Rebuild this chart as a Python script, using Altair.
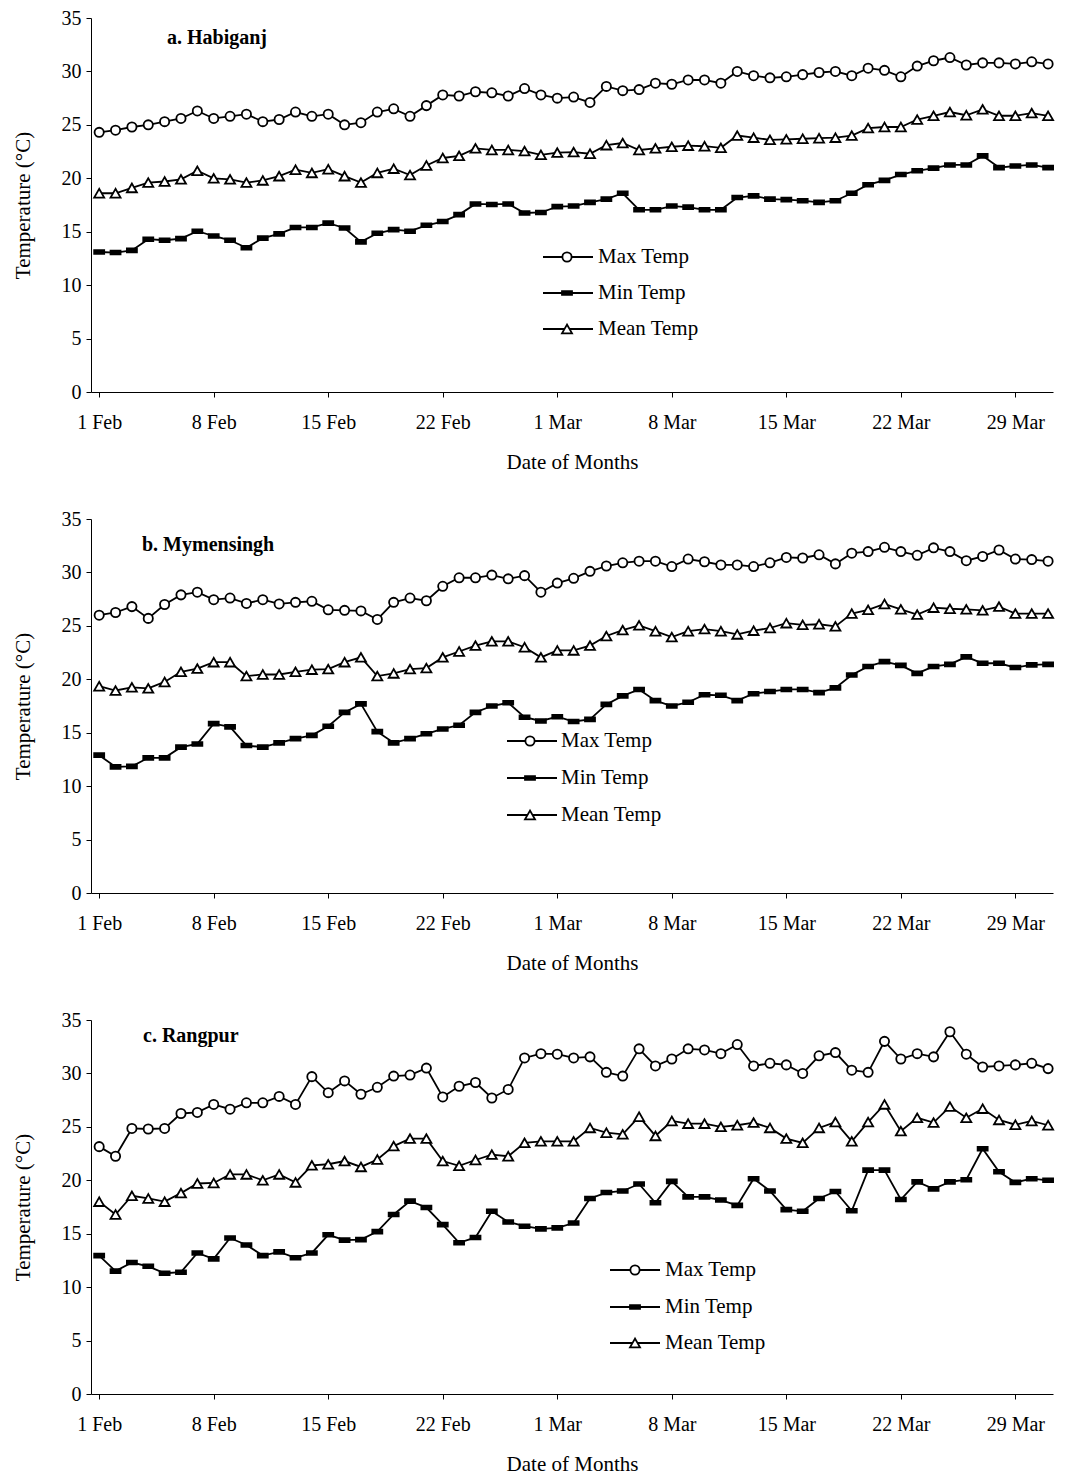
import json
import altair as alt
import pandas as pd

FONT = "Liberation Serif"

# ---------------- data ----------------
tick_days = [0, 7, 14, 21, 28, 35, 42, 49, 56]
tick_labels = ["1 Feb", "8 Feb", "15 Feb", "22 Feb", "1 Mar", "8 Mar", "15 Mar", "22 Mar", "29 Mar"]
series_names = ["Max Temp", "Min Temp", "Mean Temp"]
panel_titles = ["a. Habiganj", "b. Mymensingh", "c. Rangpur"]

max_a = [24.3, 24.5, 24.8, 25.0, 25.3, 25.6, 26.3, 25.6, 25.8, 26.0, 25.3, 25.5, 26.2, 25.8, 26.0,
         25.0, 25.2, 26.2, 26.5, 25.8, 26.8, 27.8, 27.7, 28.1, 28.0, 27.7, 28.4, 27.8, 27.5, 27.6,
         27.1, 28.6, 28.2, 28.3, 28.9, 28.8, 29.2, 29.2, 28.9, 30.0, 29.6, 29.4, 29.5, 29.7, 29.9,
         30.0, 29.6, 30.3, 30.1, 29.5, 30.5, 31.0, 31.3, 30.6, 30.8, 30.8, 30.7, 30.9, 30.7]
min_a = [13.1, 13.05, 13.25, 14.3, 14.2, 14.35, 15.05, 14.6, 14.2, 13.5, 14.4, 14.8, 15.4, 15.4, 15.8,
         15.35, 14.05, 14.85, 15.2, 15.05, 15.6, 15.95, 16.6, 17.6, 17.55, 17.6, 16.75, 16.8, 17.35, 17.4,
         17.75, 18.05, 18.6, 17.05, 17.05, 17.4, 17.3, 17.05, 17.05, 18.2, 18.35, 18.05, 18.0, 17.9, 17.75,
         17.9, 18.6, 19.4, 19.8, 20.35, 20.7, 20.95, 21.25, 21.25, 22.1, 21.0, 21.15, 21.25, 21.0]
mean_a = [18.6, 18.6, 19.1, 19.6, 19.7, 19.9, 20.7, 20.0, 19.9, 19.6, 19.8, 20.2, 20.8, 20.5, 20.85,
          20.2, 19.6, 20.5, 20.9, 20.3, 21.2, 21.9, 22.1, 22.8, 22.65, 22.65, 22.55, 22.2, 22.4, 22.45,
          22.3, 23.1, 23.3, 22.65, 22.8, 22.95, 23.05, 23.0, 22.85, 24.0, 23.8, 23.6, 23.65, 23.7, 23.75,
          23.8, 24.0, 24.7, 24.8, 24.8, 25.5, 25.85, 26.2, 25.9, 26.45, 25.85, 25.85, 26.1, 25.85]

max_b = [26.0, 26.25, 26.8, 25.7, 27.0, 27.9, 28.15, 27.45, 27.6, 27.1, 27.45, 27.05, 27.2, 27.3, 26.5,
         26.45, 26.4, 25.6, 27.2, 27.6, 27.35, 28.7, 29.5, 29.5, 29.75, 29.4, 29.7, 28.15, 29.0, 29.45,
         30.1, 30.6, 30.9, 31.05, 31.05, 30.55, 31.25, 31.0, 30.7, 30.7, 30.55, 30.9, 31.4, 31.35, 31.65,
         30.8, 31.8, 31.95, 32.35, 31.95, 31.6, 32.3, 31.95, 31.1, 31.5, 32.1, 31.25, 31.2, 31.05]
min_b = [12.9, 11.8, 11.85, 12.65, 12.65, 13.65, 13.95, 15.85, 15.55, 13.8, 13.65, 14.05, 14.45, 14.75, 15.6,
         16.9, 17.7, 15.1, 14.05, 14.45, 14.9, 15.35, 15.7, 16.9, 17.5, 17.8, 16.45, 16.1, 16.5, 16.05,
         16.25, 17.65, 18.45, 19.05, 18.0, 17.5, 17.85, 18.55, 18.5, 18.0, 18.65, 18.85, 19.05, 19.05, 18.75,
         19.2, 20.4, 21.2, 21.65, 21.3, 20.55, 21.2, 21.4, 22.1, 21.5, 21.5, 21.1, 21.35, 21.4]
mean_b = [19.35, 18.95, 19.25, 19.15, 19.75, 20.7, 21.0, 21.6, 21.6, 20.3, 20.45, 20.45, 20.7, 20.9, 20.95,
          21.6, 22.05, 20.3, 20.55, 20.95, 21.05, 22.05, 22.6, 23.15, 23.55, 23.55, 23.0, 22.05, 22.7, 22.7,
          23.15, 24.05, 24.6, 25.05, 24.5, 23.95, 24.5, 24.7, 24.5, 24.2, 24.55, 24.8, 25.25, 25.1, 25.15,
          24.95, 26.15, 26.5, 27.05, 26.55, 26.05, 26.7, 26.6, 26.55, 26.45, 26.8, 26.15, 26.15, 26.15]

max_c = [23.15, 22.25, 24.85, 24.8, 24.85, 26.25, 26.35, 27.1, 26.65, 27.25, 27.25, 27.85, 27.1, 29.7, 28.2,
         29.3, 28.05, 28.7, 29.75, 29.85, 30.5, 27.8, 28.8, 29.15, 27.7, 28.5, 31.45, 31.85, 31.8, 31.45,
         31.55, 30.1, 29.75, 32.3, 30.7, 31.35, 32.3, 32.2, 31.85, 32.7, 30.7, 30.95, 30.8, 30.0, 31.65,
         31.95, 30.3, 30.1, 33.0, 31.35, 31.85, 31.55, 33.9, 31.8, 30.6, 30.7, 30.8, 30.95, 30.45]
min_c = [12.95, 11.5, 12.3, 11.95, 11.3, 11.4, 13.2, 12.65, 14.6, 13.95, 12.95, 13.3, 12.75, 13.2, 14.9,
         14.4, 14.45, 15.2, 16.8, 18.05, 17.45, 15.85, 14.15, 14.65, 17.1, 16.1, 15.7, 15.45, 15.55, 16.0,
         18.3, 18.85, 19.0, 19.65, 17.9, 19.9, 18.45, 18.45, 18.15, 17.65, 20.15, 19.0, 17.25, 17.1, 18.3,
         18.95, 17.15, 20.95, 20.95, 18.2, 19.85, 19.2, 19.85, 20.05, 22.95, 20.8, 19.8, 20.15, 20.0]
mean_c = [18.0, 16.8, 18.55, 18.3, 18.0, 18.8, 19.7, 19.75, 20.55, 20.55, 20.0, 20.55, 19.8, 21.4, 21.5,
          21.8, 21.25, 21.95, 23.2, 23.9, 23.9, 21.8, 21.35, 21.9, 22.4, 22.25, 23.5, 23.65, 23.65, 23.65,
          24.9, 24.45, 24.3, 25.95, 24.15, 25.55, 25.3, 25.3, 25.0, 25.15, 25.4, 24.9, 23.9, 23.5, 24.9,
          25.45, 23.65, 25.45, 27.1, 24.6, 25.85, 25.4, 26.9, 25.85, 26.7, 25.65, 25.2, 25.55, 25.15]

# ---------------- styling / layout ----------------
W, H = 962, 374
marker_shape = {
    "Max Temp": "circle",
    "Min Temp": "M-1,-0.38L1,-0.38L1,0.38L-1,0.38Z",
    "Mean Temp": "triangle-up",
}
marker_size = {"Max Temp": 85, "Min Temp": 100, "Mean Temp": 100}
marker_fill = {"Max Temp": "white", "Min Temp": "black", "Mean Temp": "white"}

# pixel layout of in-plot decorations (title + legend) per panel
title_xy = [(76, 26), (51, 32), (52, 22)]
legend_geo = [
    dict(x0=452, x1=502, xm=476, xt=507, ys=[239, 275, 311]),
    dict(x0=416, x1=466, xm=439, xt=470, ys=[222, 259, 296]),
    dict(x0=519, x1=569, xm=544, xt=574, ys=[250, 287, 323]),
]

label_expr = json.dumps(tick_labels) + "[datum.value / 7]"


def panel(idx, maxv, minv, meanv):
    n = len(maxv)
    vals = {"Max Temp": maxv, "Min Temp": minv, "Mean Temp": meanv}
    df = pd.DataFrame({
        "day": list(range(n)) * 3,
        "series": [s for s in series_names for _ in range(n)],
        "temp": maxv + minv + meanv,
    })
    x = alt.X("day:Q",
              scale=alt.Scale(domain=[-0.5, 58.3], nice=False, zero=False),
              axis=alt.Axis(values=tick_days, labelExpr=label_expr, title="Date of Months"))
    y = alt.Y("temp:Q",
              scale=alt.Scale(domain=[0, 35], nice=False),
              axis=alt.Axis(values=[0, 5, 10, 15, 20, 25, 30, 35], title="Temperature (°C)"))
    layers = [alt.Chart(df).mark_line(color="black", strokeWidth=1.8).encode(
        x=x, y=y, detail="series:N")]
    for s in series_names:
        sdf = pd.DataFrame({"day": list(range(n)), "temp": vals[s]})
        layers.append(alt.Chart(sdf).mark_point(
            shape=marker_shape[s], size=marker_size[s], filled=True,
            fill=marker_fill[s], stroke="black", strokeWidth=1.8, opacity=1
        ).encode(x=x, y=y))
    # legend drawn inside the plot
    g = legend_geo[idx]
    for s, ly in zip(series_names, g["ys"]):
        one = pd.DataFrame({"label": [s]})
        layers.append(alt.Chart(one).mark_rule(color="black", strokeWidth=1.8).encode(
            x=alt.value(g["x0"]), x2=alt.value(g["x1"]), y=alt.value(ly)))
        layers.append(alt.Chart(one).mark_point(
            shape=marker_shape[s], size=marker_size[s], filled=True,
            fill=marker_fill[s], stroke="black", strokeWidth=1.8, opacity=1
        ).encode(x=alt.value(g["xm"]), y=alt.value(ly)))
        layers.append(alt.Chart(one).mark_text(
            align="left", baseline="middle", font=FONT, fontSize=21, color="black"
        ).encode(x=alt.value(g["xt"]), y=alt.value(ly), text="label:N"))
    tx, ty = title_xy[idx]
    layers.append(alt.Chart(pd.DataFrame({"t": [panel_titles[idx]]})).mark_text(
        align="left", baseline="alphabetic", font=FONT, fontSize=20, fontWeight="bold", color="black"
    ).encode(x=alt.value(tx), y=alt.value(ty), text="t:N"))
    return alt.layer(*layers).properties(width=W, height=H)


chart = alt.vconcat(
    panel(0, max_a, min_a, mean_a),
    panel(1, max_b, min_b, mean_b),
    panel(2, max_c, min_c, mean_c),
    spacing=37,
).properties(
    padding={"left": 4, "top": 0, "right": 0, "bottom": 0}
).configure_view(
    stroke=None
).configure_axis(
    grid=False,
    domainColor="black",
    tickColor="black",
    domainWidth=1,
    tickWidth=1,
    tickSize=5,
    labelFont=FONT,
    titleFont=FONT,
    labelFontSize=20,
    titleFontSize=21,
    labelColor="black",
    titleColor="black",
    titleFontWeight="normal",
    labelFlush=False,
    labelOverlap=False,
).configure_axisX(
    labelPadding=15,
    titlePadding=19,
).configure_axisY(
    labelPadding=5,
    titlePadding=28,
)

chart.save("out.html", embed_options={"renderer": "svg", "actions": False})
